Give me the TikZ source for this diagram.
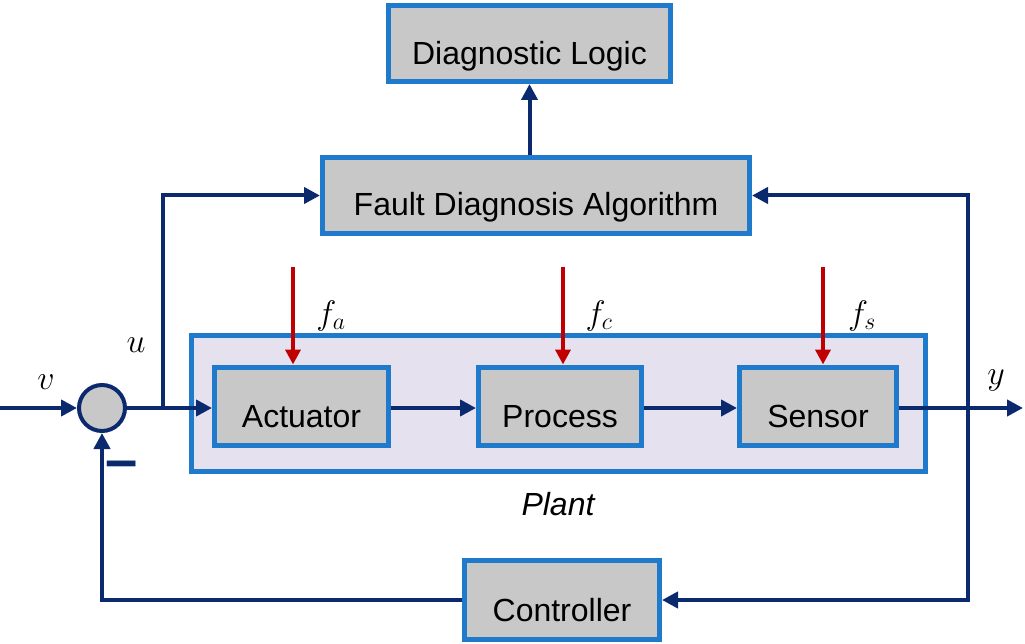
\RequirePackage{fix-cm}
\documentclass[tikz,border=0pt]{standalone}
\usepackage{fontspec}
\setmainfont{Liberation Sans}
\usetikzlibrary{arrows.meta}
\definecolor{navy}{HTML}{0B2A6E}
\definecolor{bblue}{HTML}{1F7ACC}
\definecolor{gfill}{HTML}{C8C8C8}
\definecolor{pfill}{HTML}{E5E1EE}
\definecolor{fred}{HTML}{C00000}
\begin{document}
\begin{tikzpicture}[x=1pt,y=-1pt,
  blk/.style={draw=bblue,fill=gfill,line width=5pt,inner sep=0pt,
    font=\fontsize{32}{38}\selectfont,text height=43pt,text depth=0pt},
  sig/.style={draw=navy,line width=4pt,-{Triangle[length=16pt,width=16pt]}},
  flt/.style={draw=fred,line width=4.5pt,-{Triangle[length=15pt,width=15pt]}},
  lbl/.style={font=\fontsize{34}{40}\selectfont,inner sep=0pt}]
\useasboundingbox (0,0) rectangle (1025,644);
% plant
\node[draw=bblue,fill=pfill,line width=5pt,minimum width=734pt,minimum height=136pt,inner sep=0pt] (plant) at (558.5,403.5) {};
\node[inner sep=0pt,font=\fontsize{32}{38}\selectfont\itshape] (plantlbl) at (558,504) {Plant};
% boxes
\node[blk,minimum width=282pt,minimum height=76pt] (dl) at (529.5,43.5) {Diagnostic Logic};
\node[blk,minimum width=427pt,minimum height=76pt,text height=40pt] (fda) at (536,195.5) {Fault Diagnosis Algorithm};
\node[blk,minimum width=174pt,minimum height=78pt] (act) at (301.5,406) {Actuator};
\node[blk,minimum width=163pt,minimum height=78pt] (proc) at (560,406) {Process};
\node[blk,minimum width=157pt,minimum height=78pt] (sens) at (818,406) {Sensor};
\node[blk,minimum width=195pt,minimum height=79pt] (ctrl) at (562,600) {Controller};
% sum junction
\node[circle,draw=navy,fill=gfill,line width=4pt,minimum size=46pt,inner sep=0pt] (sum) at (102,408) {};
% coordinates
\coordinate (vin) at (0,408);
\coordinate (ub) at (163,408);
\coordinate (yb) at (968,408);
\coordinate (yout) at (1023,408);
\coordinate (fa0) at (293,267);
\coordinate (fc0) at (563,267);
\coordinate (fs0) at (823,267);
% signals
\draw[sig] (vin) -- (sum.west);
\draw[sig] (sum.east) -- (act.west |- sum.east);
\draw[sig] (ub) |- (fda.west);
\draw[sig] (act.east |- ub) -- (proc.west |- ub);
\draw[sig] (proc.east |- ub) -- (sens.west |- ub);
\draw[sig] (sens.east |- ub) -- (yout);
\draw[sig] (yb) |- (fda.east);
\draw[sig] (yb) |- (ctrl.east);
\draw[sig] (ctrl.west) -| (sum.south);
\draw[sig] (fda.north -| dl.south) -- (dl.south);
% faults
\draw[flt] (fa0) -- (fa0 |- act.north);
\draw[flt] (fc0) -- (fc0 |- proc.north);
\draw[flt] (fs0) -- (fs0 |- sens.north);
% labels
\node[lbl] (vl) at (46,382) {$v$};
\node[lbl] (ul) at (136,345) {$u$};
\node[lbl] (yl) at (996,380) {$y$};
\node[lbl] (fal) at (331,316) {$f_a$};
\node[lbl] (fcl) at (599,316) {$f_c$};
\node[lbl] (fsl) at (862,316) {$f_s$};
\node[inner sep=0pt,font=\fontsize{58}{62}\selectfont\bfseries,text=navy] (minus) at (122,470) {–};
\end{tikzpicture}
\end{document}
